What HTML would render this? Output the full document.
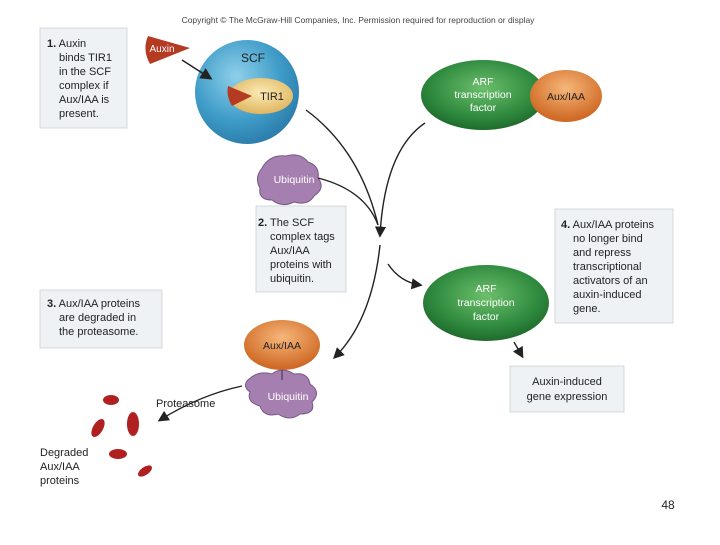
<!DOCTYPE html>
<html><head><meta charset="utf-8"><style>
body{margin:0;width:720px;height:540px;background:#fff;overflow:hidden}
svg{font-family:"Liberation Sans",sans-serif}
</style></head><body>
<svg width="720" height="540" viewBox="0 0 720 540">
<defs>
<radialGradient id="blue" cx="0.4" cy="0.35" r="0.7"><stop offset="0" stop-color="#8fd0ea"/><stop offset="0.6" stop-color="#3f9cc8"/><stop offset="1" stop-color="#2a7aa8"/></radialGradient>
<radialGradient id="tan" cx="0.5" cy="0.4" r="0.6"><stop offset="0" stop-color="#fbeab5"/><stop offset="1" stop-color="#e0b660"/></radialGradient>
<radialGradient id="green" cx="0.5" cy="0.4" r="0.6"><stop offset="0" stop-color="#6cbf6c"/><stop offset="0.7" stop-color="#2f8a3e"/><stop offset="1" stop-color="#1f6a2c"/></radialGradient>
<radialGradient id="orange" cx="0.5" cy="0.35" r="0.6"><stop offset="0" stop-color="#f6b77a"/><stop offset="1" stop-color="#d06a26"/></radialGradient>
<marker id="ah" markerWidth="8" markerHeight="8" refX="6" refY="4" orient="auto"><path d="M0,0 L8,4 L0,8 z" fill="#222"/></marker>
</defs>
<text x="358" y="23" font-size="8.5" fill="#444" text-anchor="middle">Copyright © The McGraw-Hill Companies, Inc. Permission required for reproduction or display</text>
<g fill="#eef2f5" stroke="#d4d8dc">
<rect x="40" y="28" width="87" height="100"/>
<rect x="256" y="206" width="90" height="86"/>
<rect x="40" y="290" width="122" height="58"/>
<rect x="555" y="209" width="118" height="114"/>
<rect x="510" y="366" width="114" height="46"/>
</g>
<g font-size="11" fill="#222">
<text x="47" y="47"><tspan font-weight="bold">1.</tspan> Auxin</text>
<text x="59" y="61">binds TIR1</text><text x="59" y="75">in the SCF</text>
<text x="59" y="89">complex if</text><text x="59" y="103">Aux/IAA is</text><text x="59" y="117">present.</text>
<text x="258" y="226"><tspan font-weight="bold">2.</tspan> The SCF</text>
<text x="270" y="240">complex tags</text><text x="270" y="254">Aux/IAA</text>
<text x="270" y="268">proteins with</text><text x="270" y="282">ubiquitin.</text>
<text x="47" y="307"><tspan font-weight="bold">3.</tspan> Aux/IAA proteins</text>
<text x="59" y="321">are degraded in</text><text x="59" y="335">the proteasome.</text>
<text x="561" y="228"><tspan font-weight="bold">4.</tspan> Aux/IAA proteins</text>
<text x="573" y="242">no longer bind</text><text x="573" y="256">and repress</text>
<text x="573" y="270">transcriptional</text><text x="573" y="284">activators of an</text>
<text x="573" y="298">auxin-induced</text><text x="573" y="312">gene.</text>
<text x="567" y="385" text-anchor="middle">Auxin-induced</text>
<text x="567" y="400" text-anchor="middle">gene expression</text>
<text x="156" y="407">Proteasome</text>
<text x="40" y="456">Degraded</text><text x="40" y="470">Aux/IAA</text><text x="40" y="484">proteins</text>
</g>
<circle cx="247" cy="92" r="52" fill="url(#blue)"/>
<text x="253" y="62" font-size="12" fill="#222" text-anchor="middle">SCF</text>
<ellipse cx="261" cy="96" rx="32" ry="18" fill="url(#tan)"/>
<path d="M228,86 L252,96 L232,106 Q226,96 228,86z" fill="#b53a22"/>
<text x="272" y="100" font-size="11" fill="#222" text-anchor="middle">TIR1</text>
<path d="M148,36 L190,48 L150,64 Q142,50 148,36z" fill="#b53a22"/>
<text x="162" y="52" font-size="10" fill="#fff" text-anchor="middle">Auxin</text>
<line x1="182" y1="60" x2="210" y2="78" stroke="#222" stroke-width="1.5" marker-end="url(#ah)"/>
<ellipse cx="483" cy="95" rx="62" ry="35" fill="url(#green)"/>
<ellipse cx="566" cy="96" rx="36" ry="26" fill="url(#orange)"/>
<g font-size="10.5" fill="#fff" text-anchor="middle">
<text x="483" y="85">ARF</text><text x="483" y="98">transcription</text><text x="483" y="111">factor</text>
</g>
<text x="566" y="100" font-size="10.5" fill="#222" text-anchor="middle">Aux/IAA</text>
<ellipse cx="486" cy="303" rx="63" ry="38" fill="url(#green)"/>
<g font-size="10.5" fill="#fff" text-anchor="middle">
<text x="486" y="292">ARF</text><text x="486" y="306">transcription</text><text x="486" y="320">factor</text></g>
<ellipse cx="282" cy="345" rx="38" ry="25" fill="url(#orange)"/>
<text x="282" y="349" font-size="10.5" fill="#222" text-anchor="middle">Aux/IAA</text>
<g fill="#a57fb0" stroke="#7a5688">
<path d="M262,168 q8,-14 24,-12 q14,-4 22,6 q12,4 10,16 q8,10 -4,18 q-6,10 -20,6 q-12,6 -22,-2 q-14,0 -12,-12 q-6,-10 2,-20z"/>
<path d="M248,380 q10,-10 24,-6 q10,-8 22,0 q14,-2 16,10 q12,8 2,18 q4,12 -12,12 q-10,8 -22,0 q-14,4 -18,-8 q-14,-4 -10,-14 q-8,-6 -2,-12z"/>
</g>
<text x="294" y="183" font-size="10.5" fill="#fff" text-anchor="middle">Ubiquitin</text>
<text x="288" y="400" font-size="10.5" fill="#fff" text-anchor="middle">Ubiquitin</text>
<line x1="282" y1="370" x2="282" y2="380" stroke="#333"/>
<g fill="none" stroke="#222" stroke-width="1.4">
<path d="M306,110 Q360,150 378,225" />
<path d="M318,178 Q365,190 378,225"/>
<path d="M425,123 Q385,150 380,235" marker-end="url(#ah)"/>
<path d="M388,264 Q400,282 420,285" marker-end="url(#ah)"/>
<path d="M380,245 Q372,320 335,357" marker-end="url(#ah)"/>
<path d="M242,386 Q200,395 160,420" marker-end="url(#ah)"/>
<path d="M514,342 L522,356" marker-end="url(#ah)"/>
</g>
<g fill="#b02020">
<ellipse cx="111" cy="400" rx="8" ry="5"/>
<ellipse cx="98" cy="428" rx="5" ry="10" transform="rotate(30 98 428)"/>
<ellipse cx="133" cy="424" rx="6" ry="12"/>
<ellipse cx="118" cy="454" rx="9" ry="5"/>
<ellipse cx="145" cy="471" rx="8" ry="4" transform="rotate(-35 145 471)"/>
</g>
<text x="668" y="509" font-size="12" fill="#222" text-anchor="middle">48</text>
</svg>
</body></html>
